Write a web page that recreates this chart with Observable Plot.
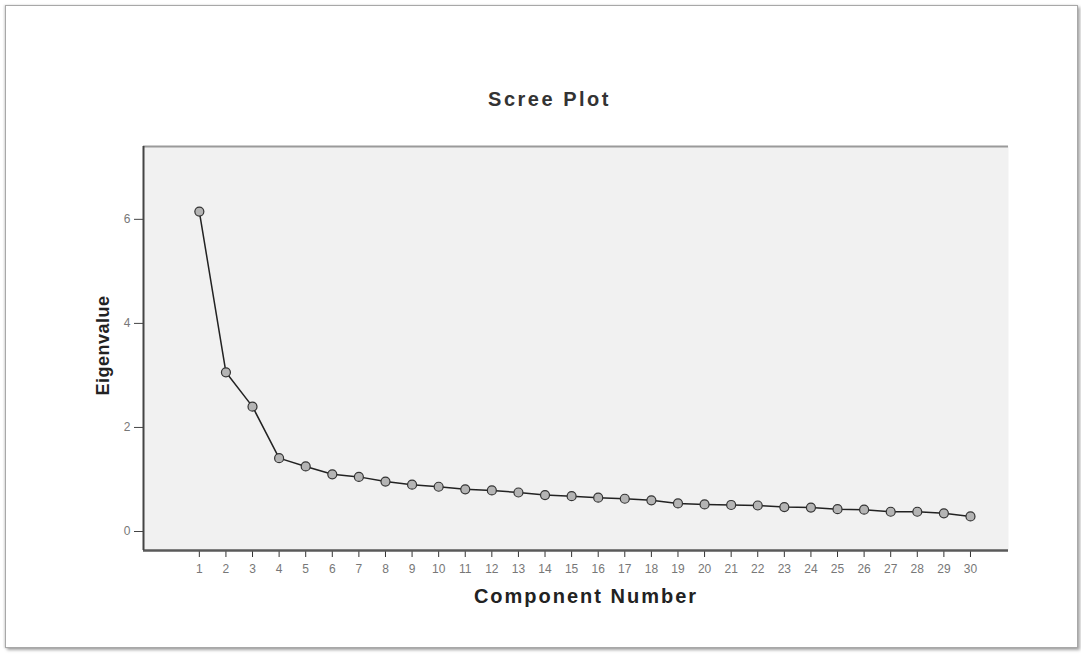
<!DOCTYPE html>
<html>
<head>
<meta charset="utf-8">
<script src="https://cdn.jsdelivr.net/npm/d3@7"></script>
<script src="https://cdn.jsdelivr.net/npm/@observablehq/plot@0.6"></script>
<style>
  html, body { margin: 0; padding: 0; background: #ffffff; }
  #page { position: relative; width: 1081px; height: 655px; overflow: hidden; font-family: "Liberation Sans", Arial, sans-serif; }
  #card { position: absolute; left: 5px; top: 5px; width: 1071px; height: 641px; border: 1px solid #a8a8a8; background: #fff;
          box-shadow: 2px 2px 3px rgba(0,0,0,0.35), -1px 0 2px rgba(0,0,0,0.15); }
  #title { position: absolute; left: 0; width: 1099px; top: 89px; text-align: center; font-weight: bold; font-size: 20px; line-height: 20px; letter-spacing: 2.5px; color: #333; }
  #chart { position: absolute; left: 0; top: 130px; }
</style>
</head>
<body>
<div id="page">
  <div id="card"></div>
  <div id="title">Scree Plot</div>
  <div id="chart"></div>
</div>
<script>
const components = [1, 2, 3, 4, 5, 6, 7, 8, 9, 10, 11, 12, 13, 14, 15, 16, 17, 18, 19, 20, 21, 22, 23, 24, 25, 26, 27, 28, 29, 30];
const eigenvalues = [6.15, 3.06, 2.40, 1.41, 1.25, 1.10, 1.05, 0.96, 0.90, 0.86, 0.81, 0.79, 0.75, 0.70, 0.68, 0.65, 0.63, 0.60, 0.54, 0.52, 0.51, 0.50, 0.47, 0.46, 0.43, 0.42, 0.38, 0.38, 0.35, 0.29];
const yTicks = [0, 2, 4, 6];
const xLabel = "Component Number";
const yLabel = "Eigenvalue";

const xDomain = [-1.1, 31.43];
const yDomain = [-0.365, 7.4];

const data = components.map((c, i) => ({component: c, eigenvalue: eigenvalues[i]}));

const chart = Plot.plot({
  width: 1081,
  height: 480,
  marginLeft: 143,
  marginRight: 73,
  marginTop: 16,
  marginBottom: 60,
  style: {background: "transparent", overflow: "visible", fontFamily: "'Liberation Sans', Arial, sans-serif"},
  x: {domain: xDomain, axis: null},
  y: {domain: yDomain, axis: null},
  marks: [
    Plot.frame({fill: "#f1f1f1", stroke: "none"}),
    Plot.ruleY([yDomain[1]], {stroke: "#9a9a9a", strokeWidth: 2}),
    Plot.axisX({ticks: components, tickFormat: d => String(d), tickSize: 7, tickPadding: 7, fontSize: 12, label: null, stroke: "#333", fill: "#777"}),
    Plot.axisY({ticks: yTicks, tickFormat: d => String(d), tickSize: 9, tickPadding: 4, fontSize: 12, label: null, stroke: "#444", fill: "#777"}),
    Plot.ruleY([yDomain[0]], {stroke: "#5a5a5a", strokeWidth: 2.5}),
    Plot.ruleX([xDomain[0]], {stroke: "#444", strokeWidth: 2}),
    Plot.line(data, {x: "component", y: "eigenvalue", stroke: "#222", strokeWidth: 1.5}),
    Plot.dot(data, {x: "component", y: "eigenvalue", r: 4.5, fill: "#b4b4b4", stroke: "#333", strokeWidth: 1.2}),
    Plot.text([yLabel], {text: d => d, frameAnchor: "left", textAnchor: "middle", dx: -40, dy: -3, rotate: -90, fontWeight: "bold", fontSize: 18, fill: "#222"}),
    Plot.text([xLabel], {text: d => d, frameAnchor: "bottom", textAnchor: "middle", dx: 10, dy: 38, lineAnchor: "top", fontWeight: "bold", fontSize: 20, fill: "#222"})
  ]
});

d3.select(chart).selectAll("text").filter(function() { return this.textContent === xLabel; })
  .attr("letter-spacing", "2px");
d3.select(chart).selectAll("text").filter(function() { return this.textContent === yLabel; })
  .attr("letter-spacing", "0.5px");

document.getElementById("chart").appendChild(chart);
</script>
</body>
</html>
